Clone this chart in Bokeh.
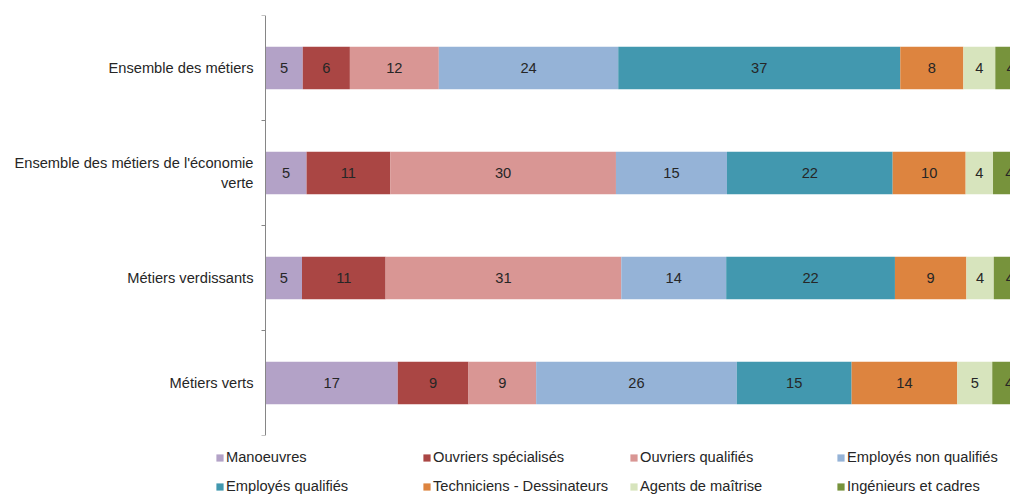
import numpy as np
from bokeh.plotting import figure
from bokeh.layouts import column
from bokeh.models import (ColumnDataSource, Range1d, LinearAxis, Span,
                          FixedTicker, CustomJSTickFormatter)
from bokeh.embed import file_html
from bokeh.resources import INLINE
from bokeh.core.properties import value

# ---- data -------------------------------------------------------------
categories = ["Ensemble des métiers",
              "Ensemble des métiers de l'économie verte",
              "Métiers verdissants",
              "Métiers verts"]
category_tick_labels = ["Ensemble des métiers",
                        "Ensemble des métiers de l'économie\nverte",
                        "Métiers verdissants",
                        "Métiers verts"]

series_names = ["Manoeuvres", "Ouvriers spécialisés", "Ouvriers qualifiés",
                "Employés non qualifiés", "Employés qualifiés",
                "Techniciens - Dessinateurs", "Agents de maîtrise",
                "Ingénieurs et cadres"]

manoeuvres = [4.9, 5.4, 4.8, 17.4]
ouvriers_specialises = [6.2, 11.0, 11.0, 9.3]
ouvriers_qualifies = [11.7, 29.7, 31.0, 8.9]
employes_non_qualifies = [23.6, 14.6, 13.8, 26.4]
employes_qualifies = [37.1, 21.8, 22.2, 15.1]
techniciens_dessinateurs = [8.3, 9.6, 9.4, 13.9]
agents_de_maitrise = [4.2, 3.6, 3.6, 4.6]
ingenieurs_et_cadres = [4.0, 4.3, 4.2, 4.4]

colors = ["#B3A2C7", "#AA4644", "#D99694", "#95B3D7",
          "#4298AF", "#DD843F", "#D7E4BD", "#77933C"]

series_values = [manoeuvres, ouvriers_specialises, ouvriers_qualifies,
                 employes_non_qualifies, employes_qualifies,
                 techniciens_dessinateurs, agents_de_maitrise,
                 ingenieurs_et_cadres]

# ---- sources ----------------------------------------------------------
n_cat = len(categories)
cat_pos = [i + 0.5 for i in range(n_cat)]      # category slot centres
bounds = list(range(n_cat + 1))                # category slot boundaries
keys = ["s%d" % i for i in range(len(series_names))]
data = {"y": cat_pos, "cat": categories}
for k, vals in zip(keys, series_values):
    data[k] = vals
source = ColumnDataSource(data)

arr = np.array(series_values)              # (series, categories)
left = np.cumsum(arr, axis=0) - arr
centers = left + arr / 2.0
lab_x, lab_y, lab_t = [], [], []
for i in range(arr.shape[0]):
    for j in range(arr.shape[1]):
        lab_x.append(float(centers[i, j]))
        lab_y.append(cat_pos[j])
        lab_t.append(str(int(round(arr[i, j]))))
label_source = ColumnDataSource(dict(x=lab_x, y=lab_y, text=lab_t))

# ---- layout constants -----------------------------------------------------
FONT = "Liberation Sans"
TXT = "#262626"
AXIS = "#868686"
PX_PER_UNIT = 7.6        # horizontal scale of the bars
AXIS_GAP_PX = 50         # gap between frame edge and the value axis
LEFT_BORDER = 215

# ---- main chart -------------------------------------------------------
p = figure(width=1010, height=440,
           y_range=Range1d(n_cat, 0),
           x_range=Range1d(-AXIS_GAP_PX / PX_PER_UNIT, 98),
           x_axis_location=None, y_axis_location=None,
           toolbar_location=None, output_backend="svg",
           min_border_left=LEFT_BORDER, min_border_right=0,
           min_border_top=15, min_border_bottom=5)
p.outline_line_color = None
p.xgrid.grid_line_color = None
p.ygrid.grid_line_color = None

p.hbar_stack(keys, y="y", height=0.405, fill_color=colors,
             line_color=None, source=source)

p.text(x="x", y="y", text="text", source=label_source,
       text_align="center", text_baseline="middle",
       text_font=value(FONT), text_font_size="11pt", text_color=TXT)

# vertical axis line at x = 0 and ticks at the category boundaries
p.add_layout(Span(location=0, dimension="height", line_color=AXIS,
                  line_width=1))
p.ray(x=[0] * len(bounds), y=bounds, length=4, length_units="screen",
      angle=np.pi, line_color=AXIS, line_width=1)

# category names at slot centres
label_axis = LinearAxis(ticker=FixedTicker(ticks=cat_pos),
                        formatter=CustomJSTickFormatter(
                            args=dict(labels=category_tick_labels),
                            code="return labels[Math.floor(tick)];"),
                        major_tick_line_color=None,
                        major_tick_out=0, major_tick_in=0,
                        minor_tick_out=0, minor_tick_in=0,
                        minor_tick_line_color=None,
                        axis_line_color=None,
                        major_label_standoff=-(AXIS_GAP_PX - 12),
                        major_label_text_font=FONT,
                        major_label_text_font_size="11pt",
                        major_label_text_color=TXT)
p.add_layout(label_axis, "left")

# ---- legend strip (its bars lie outside its ranges; only the legend shows)
pl = figure(width=1010, height=55,
            x_range=Range1d(-20, -10), y_range=Range1d(-20, -10),
            x_axis_location=None, y_axis_location=None,
            toolbar_location=None, output_backend="svg",
            min_border_left=LEFT_BORDER, min_border_right=0,
            min_border_top=8, min_border_bottom=0)
pl.outline_line_color = None
pl.xgrid.grid_line_color = None
pl.ygrid.grid_line_color = None
pl.hbar_stack(keys, y="y", height=0.405, fill_color=colors,
              line_color=None, source=source, legend_label=series_names)

lg = pl.legend[0]
lg.location = "top_left"
lg.orientation = "horizontal"
lg.ncols = 4
lg.glyph_width = 9
lg.glyph_height = 9
lg.label_standoff = 2
lg.label_width = 185
lg.label_height = 18
lg.spacing = 11
lg.padding = 0
lg.margin = 0
lg.border_line_color = None
lg.background_fill_alpha = 0
lg.label_text_font = FONT
lg.label_text_font_size = "11pt"
lg.label_text_color = TXT

layout = column(p, pl)
open("out.html", "w").write(file_html(layout, INLINE))
